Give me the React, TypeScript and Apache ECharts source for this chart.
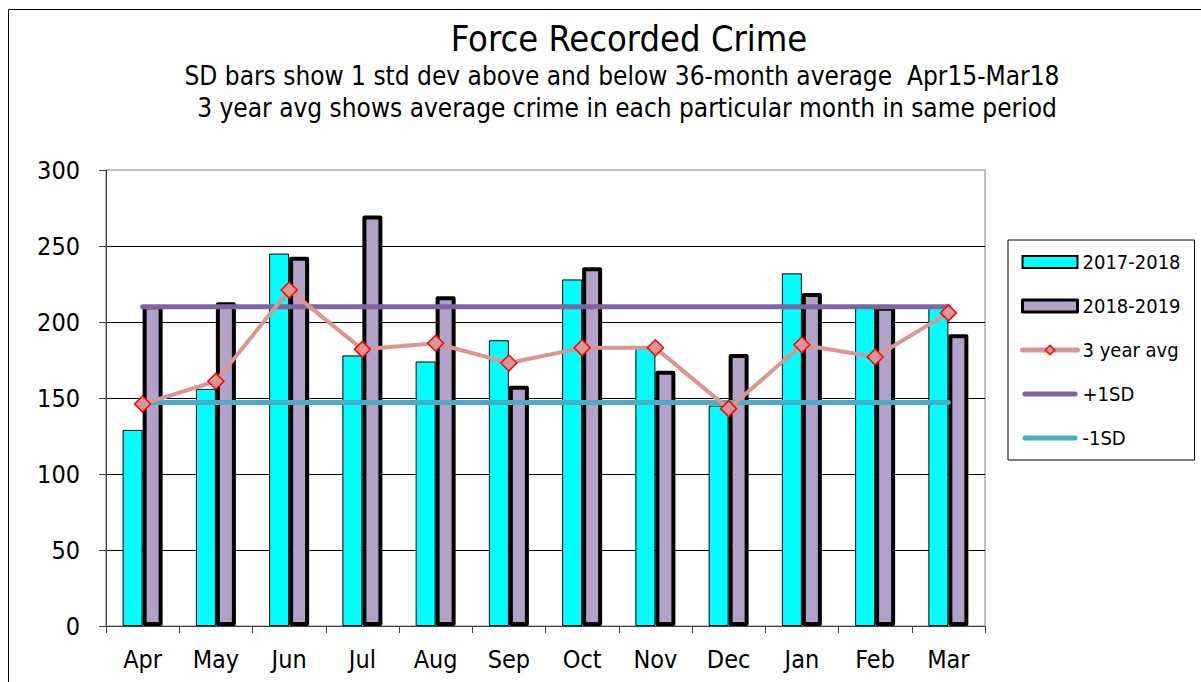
import React, { useEffect, useRef } from "react";
import * as echarts from "echarts";

const months = ["Apr", "May", "Jun", "Jul", "Aug", "Sep", "Oct", "Nov", "Dec", "Jan", "Feb", "Mar"];
const crime1718 = [129, 156, 245, 178, 174, 188, 228, 184, 145, 232, 211, 211];
const crime1819 = [211, 213, 243, 270, 217, 158, 236, 168, 179, 219, 210, 192];
const avg3yr = [146, 161, 221, 182, 186, 173, 183, 183, 143, 185, 177, 206];
const plus1SD = [210, 210, 210, 210, 210, 210, 210, 210, 210, 210, 210, 210];
const minus1SD = [147, 147, 147, 147, 147, 147, 147, 147, 147, 147, 147, 147];
const yTicks = { min: 0, max: 300, interval: 50 };

const FONT = "'DejaVu Sans Condensed', 'DejaVu Sans', sans-serif";
const SD_ICON = "path://M2.5,0 L52.5,0 A2.5,2.5 0 0 1 52.5,5 L2.5,5 A2.5,2.5 0 0 1 2.5,0 Z";

export default function App() {
  const ref = useRef<HTMLDivElement>(null);
  useEffect(() => {
    if (!ref.current) return;
    const chart = echarts.init(ref.current, null, { renderer: "svg" });
    chart.setOption({
      animation: false,
      backgroundColor: "#ffffff",
      textStyle: { fontFamily: FONT },
      graphic: [
        {
          type: "rect",
          shape: { x: 8.5, y: 9.5, width: 1400, height: 900 },
          style: { fill: "none", stroke: "#000", lineWidth: 1 },
          silent: true,
        },
        {
          type: "text",
          x: 629,
          y: 38,
          style: {
            text: "Force Recorded Crime",
            textAlign: "center",
            textVerticalAlign: "middle",
            fontSize: 36,
            fontFamily: FONT,
            fill: "#000",
          },
        },
        {
          type: "text",
          x: 622,
          y: 76,
          style: {
            text: "SD bars show 1 std dev above and below 36-month average  Apr15-Mar18",
            textAlign: "center",
            textVerticalAlign: "middle",
            fontSize: 26,
            fontFamily: FONT,
            fill: "#000",
          },
        },
        {
          type: "text",
          x: 627,
          y: 108,
          style: {
            text: "3 year avg shows average crime in each particular month in same period",
            textAlign: "center",
            textVerticalAlign: "middle",
            fontSize: 26,
            fontFamily: FONT,
            fill: "#000",
          },
        },
      ],
      grid: {
        left: 106,
        right: 216,
        top: 170,
        bottom: 56,
        show: true,
        borderColor: "#808080",
        borderWidth: 1,
        backgroundColor: "transparent",
      },
      legend: {
        orient: "vertical",
        left: 1008,
        top: 240,
        padding: [12, 14, 12, 12],
        itemGap: 24,
        itemWidth: 55,
        itemHeight: 12,
        borderColor: "#000",
        borderWidth: 1,
        backgroundColor: "#fff",
        textStyle: { fontSize: 20, fontFamily: FONT, color: "#000" },
        data: [
          { name: "2017-2018", icon: "rect" },
          { name: "2018-2019", icon: "rect", itemStyle: { borderWidth: 3 } },
          {
            name: "3 year avg",
            lineStyle: { width: 5, cap: "round", color: "#D99694" },
            itemStyle: { borderWidth: 1.5, borderColor: "#FF0000", color: "#D99694" },
          },
          { name: "+1SD", icon: SD_ICON, itemStyle: { color: "#8064A2", borderWidth: 0 } },
          { name: "-1SD", icon: SD_ICON, itemStyle: { color: "#4BACC6", borderWidth: 0 } },
        ],
      },
      xAxis: {
        type: "category",
        data: months,
        axisLine: { show: true, lineStyle: { color: "#404040", width: 1 } },
        axisTick: { show: true, length: 7, alignWithLabel: false, lineStyle: { color: "#404040" } },
        axisLabel: { fontSize: 25, color: "#000", margin: 21, fontFamily: FONT },
        splitLine: { show: false },
      },
      yAxis: {
        type: "value",
        min: yTicks.min,
        max: yTicks.max,
        interval: yTicks.interval,
        axisLine: { show: true, lineStyle: { color: "#404040", width: 1 } },
        axisTick: { show: true, length: 7, lineStyle: { color: "#404040" } },
        axisLabel: { fontSize: 25, color: "#000", margin: 26, fontFamily: FONT },
        splitLine: { show: true, showMinLine: false, showMaxLine: false, lineStyle: { color: "#000", width: 1 } },
      },
      series: [
        {
          name: "2017-2018",
          type: "bar",
          data: crime1718,
          barWidth: 20,
          barGap: "0%",
          itemStyle: { color: "#00FFFF", borderColor: "#000", borderWidth: 1 },
          z: 2,
        },
        {
          name: "2018-2019",
          type: "bar",
          data: crime1819,
          barWidth: 20,
          barGap: "0%",
          itemStyle: { color: "#B3A2C7", borderColor: "#000", borderWidth: 4, borderJoin: "round" },
          z: 3,
        },
        {
          name: "+1SD",
          type: "line",
          data: plus1SD,
          symbol: "none",
          lineStyle: { color: "#8064A2", width: 5, cap: "round" },
          itemStyle: { color: "#8064A2" },
          z: 4,
        },
        {
          name: "-1SD",
          type: "line",
          data: minus1SD,
          symbol: "none",
          lineStyle: { color: "#4BACC6", width: 5, cap: "round" },
          itemStyle: { color: "#4BACC6" },
          z: 4,
        },
        {
          name: "3 year avg",
          type: "line",
          data: avg3yr,
          symbol: "diamond",
          symbolSize: 16,
          lineStyle: { color: "#D99694", width: 4, cap: "round" },
          itemStyle: { color: "#D99694", borderColor: "#FF0000", borderWidth: 1.5 },
          z: 5,
        },
      ],
    });
    return () => chart.dispose();
  }, []);
  return (
    <div
      ref={ref}
      style={{ position: "absolute", left: 0, top: 0, width: 1201, height: 682 }}
    />
  );
}
